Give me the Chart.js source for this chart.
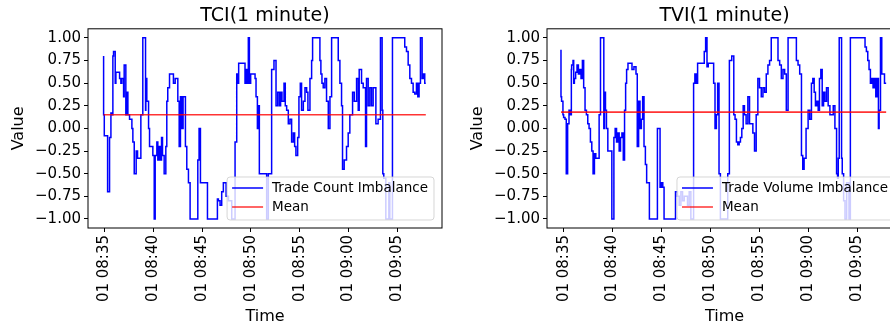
<!DOCTYPE html>
<html>
<head>
<meta charset="utf-8">
<script src="https://cdn.jsdelivr.net/npm/chart.js@4.4.1/dist/chart.umd.min.js"></script>
<style>
  body { margin: 0; background: #fff; overflow: hidden; width: 890px; height: 326px; position: relative; }
  #tci { position: absolute; left: 0; top: 0; }
  #tvi { position: absolute; left: 445px; top: 0; }
</style>
</head>
<body>
<canvas id="tci" width="445" height="326"></canvas>
<canvas id="tvi" width="460" height="326"></canvas>
<script>
"use strict";
// minutes after 08:35
var timeLabels = ['01 08:35', '01 08:40', '01 08:45', '01 08:50', '01 08:55', '01 09:00', '01 09:05'];
var valueLabels = ['\u22121.00', '\u22120.75', '\u22120.50', '\u22120.25', '0.00', '0.25', '0.50', '0.75', '1.00'];

var tciTime = [-0.10,-0.03,0.17,0.31,0.51,0.65,0.75,0.85,0.92,1.09,
  1.16,1.33,1.54,1.67,1.77,1.95,2.01,2.18,2.29,2.39,
  2.56,2.80,2.90,3.04,3.24,3.38,3.52,3.72,3.86,3.92,
  3.99,4.20,4.23,4.33,4.51,4.61,4.74,4.95,5.09,5.19,
  5.36,5.46,5.56,5.70,5.84,5.94,6.11,6.28,6.38,6.48,
  6.66,6.79,7.06,7.24,7.51,7.65,7.78,7.92,8.05,8.29,
  8.43,8.60,8.77,8.94,9.56,9.69,9.83,9.97,10.55,10.61,
  11.57,11.67,11.84,12.01,12.18,12.46,12.70,13.04,13.38,13.55,
  13.65,13.75,13.89,14.40,14.51,14.64,14.74,14.85,14.98,15.15,
  15.43,15.53,15.67,15.77,15.87,16.11,16.62,16.79,17.13,17.37,
  17.58,17.75,17.92,18.05,18.19,18.40,18.53,18.67,18.84,19.01,
  19.18,19.35,19.49,19.62,19.80,19.93,20.07,20.20,20.38,20.55,
  20.72,20.85,21.06,21.23,21.33,21.47,22.08,22.18,22.29,22.42,
  22.59,22.76,22.94,23.11,23.28,23.38,23.96,24.13,24.30,24.40,
  24.57,24.81,24.98,25.15,25.43,25.60,25.84,26.01,26.11,26.35,
  26.52,26.76,26.86,27.03,27.20,27.37,27.54,27.82,28.05,28.29,
  28.46,28.53,28.63,28.84,29.01,29.15,29.25,29.35,29.52,29.69,
  30.78,30.96,31.13,31.30,31.47,31.64,31.81,31.98,32.12,32.25,
  32.39,32.56,32.70,32.83,32.94];
var tciValue = [0.80,0.15,-0.08,-0.08,-0.70,-0.10,0.17,0.15,0.80,0.85,
  0.50,0.62,0.62,0.55,0.50,0.55,0.35,0.70,0.15,0.40,
  0.15,0.10,0.00,-0.15,-0.50,-0.25,-0.33,-0.33,0.15,0.15,
  1.00,1.00,0.20,0.55,0.30,0.00,-0.20,-0.20,-0.30,-1.00,
  -0.30,-0.15,-0.35,-0.20,-0.35,-0.10,-0.30,-0.50,-0.20,0.30,
  0.45,0.60,0.60,0.50,0.55,0.30,-0.20,0.35,0.00,0.35,
  -0.20,-0.45,-0.60,-1.00,-1.00,-0.35,0.00,-0.60,-0.60,-1.00,
  -1.00,-0.78,-0.80,-0.85,-0.70,-0.60,-0.75,-0.80,-1.00,-0.15,
  0.60,0.50,0.72,0.72,0.50,0.65,0.50,1.00,0.50,0.60,
  0.60,0.55,0.35,0.00,0.25,-0.50,-0.50,-1.00,-0.50,0.65,
  0.75,0.25,0.40,0.25,0.40,0.30,0.50,0.25,0.20,0.05,
  0.10,-0.15,-0.05,-0.20,-0.30,-0.10,0.35,0.50,0.20,0.30,
  0.45,0.40,0.20,0.55,0.75,1.00,1.00,0.75,0.60,0.50,
  0.45,0.55,0.30,0.00,0.35,1.00,1.00,0.75,0.50,0.25,
  -0.45,-0.35,-0.20,-0.05,0.15,0.40,0.30,0.55,0.20,0.65,
  0.50,0.45,-0.20,0.55,0.25,0.45,0.25,0.45,0.05,0.10,
  1.00,0.20,-0.50,-0.55,-1.00,-1.00,-0.60,-1.00,-1.00,1.00,
  1.00,0.90,0.85,0.70,0.55,0.50,0.40,0.38,0.50,0.35,
  0.50,1.00,0.55,0.60,0.50];
var tciMean = 0.15;

var tviTime = [-0.27,-0.21,-0.07,0.00,0.14,0.27,0.41,0.55,0.68,0.79,
  0.82,0.96,1.03,1.10,1.23,1.37,1.51,1.64,1.78,1.92,
  2.05,2.19,2.33,2.47,2.60,2.74,2.88,3.01,3.15,3.29,
  3.42,3.63,3.77,3.90,4.11,4.18,4.28,4.38,4.52,4.73,
  4.93,5.14,5.27,5.41,5.55,5.68,5.82,5.96,6.10,6.23,
  6.34,6.44,6.58,6.71,6.99,7.19,7.40,7.53,7.67,7.81,
  7.95,8.08,8.22,8.36,8.49,8.63,8.77,8.90,9.59,9.73,
  9.86,10.00,10.14,10.27,10.41,11.44,11.64,11.82,11.99,12.16,
  12.33,12.67,12.84,13.01,13.29,13.42,13.56,13.70,13.84,14.38,
  14.52,14.66,14.79,14.93,15.34,15.48,15.62,15.75,15.89,16.03,
  16.16,16.78,16.95,17.19,17.40,17.53,17.67,17.81,17.95,18.08,
  18.22,18.36,18.49,18.66,18.84,19.01,19.18,19.35,19.52,19.69,
  19.86,20.03,20.21,20.38,20.55,20.72,20.89,21.06,21.23,21.40,
  21.92,22.09,22.26,22.43,22.60,22.77,22.95,23.12,23.80,23.97,
  24.14,24.32,24.45,24.59,24.79,25.00,25.17,25.34,25.48,25.62,
  25.75,25.89,26.03,26.16,26.30,26.44,26.58,26.71,26.88,27.05,
  27.23,27.40,27.57,27.74,27.91,28.01,28.08,28.18,28.42,28.49,
  28.63,28.77,28.94,29.18,29.32,29.52,30.82,30.96,31.10,31.23,
  31.37,31.51,31.64,31.78,31.92,32.05,32.19,32.26,32.40,32.53,
  32.67,32.81,32.98];
var tviValue = [0.87,0.35,0.30,0.15,0.12,0.10,-0.50,0.05,0.20,0.15,
  0.65,0.70,0.75,0.50,0.55,0.62,0.70,0.60,0.65,0.55,
  0.75,0.45,0.20,0.15,0.05,0.00,-0.15,-0.25,-0.50,-0.28,
  -0.33,-0.33,0.15,1.00,1.00,0.00,0.40,0.20,0.00,-0.25,
  -0.25,-1.00,-0.10,0.00,-0.15,-0.05,-0.25,-0.10,-0.05,-0.35,
  0.20,0.50,0.65,0.72,0.72,0.65,0.68,0.60,-0.20,0.30,
  0.00,0.10,0.35,-0.20,-0.40,-0.60,-0.60,-1.00,-1.00,0.00,
  0.00,-0.65,-0.60,-0.65,-1.00,-1.00,-0.70,-0.75,-0.85,-0.70,
  -0.80,-0.75,-0.85,-0.70,-1.00,0.50,0.60,0.50,0.72,0.72,
  0.85,1.00,0.68,0.72,0.72,0.50,0.00,0.15,0.50,-0.50,
  -1.00,-1.00,-0.50,0.75,0.80,0.15,0.10,-0.15,-0.18,-0.15,
  -0.10,0.00,0.25,0.15,0.05,0.35,0.05,0.05,-0.05,-0.25,
  0.15,0.55,0.45,0.35,0.45,0.40,0.60,0.70,0.75,1.00,
  1.00,0.75,0.70,0.55,0.65,0.60,0.20,1.00,1.00,0.75,
  0.70,0.60,-0.30,-0.45,-0.33,0.00,0.20,0.10,0.50,0.55,
  0.40,0.25,0.30,0.20,0.55,0.65,0.25,0.40,0.30,0.45,
  0.25,0.15,0.15,0.25,0.00,-0.50,-0.55,-0.33,1.00,-0.33,
  -0.50,-0.80,-1.00,-0.60,-1.00,1.00,1.00,0.90,0.85,0.75,
  0.65,0.50,0.55,0.45,0.55,0.35,0.55,0.00,0.20,1.00,
  0.60,0.60,0.50];
var tviMean = 0.18;

var FONT = 'DejaVu Sans';
Chart.defaults.font.family = FONT;
Chart.defaults.color = '#000';

// matplotlib style box around the axes
var axesFrame = {
  id: 'axesFrame',
  afterDraw: function (chart) {
    var a = chart.chartArea, ctx = chart.ctx;
    ctx.save();
    ctx.strokeStyle = '#000';
    ctx.lineWidth = 1;
    ctx.strokeRect(a.left, a.top, a.right - a.left, a.bottom - a.top);
    ctx.restore();
  }
};

// legend box in the lower right corner of the axes
var insideLegend = {
  id: 'insideLegend',
  afterDatasetsDraw: function (chart) {
    var ctx = chart.ctx, a = chart.chartArea;
    var sets = chart.data.datasets;
    ctx.save();
    ctx.font = '13.5px "' + FONT + '"';
    var textW = Math.max.apply(null, sets.map(function (d) { return ctx.measureText(d.label).width; }));
    var w = 5 + 31 + 9 + textW + 6, h = 43;
    var x = a.right - 8 - w, y = a.bottom - 8 - h;
    ctx.beginPath();
    ctx.roundRect(x, y, w, h, 3);
    ctx.fillStyle = 'rgba(255,255,255,0.8)';
    ctx.fill();
    ctx.strokeStyle = 'rgba(204,204,204,0.8)';
    ctx.lineWidth = 1;
    ctx.stroke();
    sets.forEach(function (d, i) {
      var ry = y + 11 + i * 19;
      ctx.beginPath();
      ctx.moveTo(x + 5, ry);
      ctx.lineTo(x + 36, ry);
      ctx.strokeStyle = d.borderColor;
      ctx.lineWidth = 1.5;
      ctx.stroke();
      ctx.fillStyle = '#000';
      ctx.textBaseline = 'middle';
      ctx.fillText(d.label, x + 45, ry);
    });
    ctx.restore();
  }
};

function imbalanceChart(canvasId, title, label, times, values, mean, padLeft, padRight) {
  var line = times.map(function (t, i) { return { x: t, y: values[i] }; });
  var meanLine = [{ x: times[0], y: mean }, { x: times[times.length - 1], y: mean }];
  var tickFont = { family: FONT, size: 15 };
  var labelFont = { family: FONT, size: 16 };

  new Chart(document.getElementById(canvasId).getContext('2d'), {
    type: 'line',
    data: {
      datasets: [
        { label: label, data: line, borderColor: '#0000ff', borderWidth: 1.5,
          pointRadius: 0, stepped: 'after', order: 1 },
        { label: 'Mean', data: meanLine, borderColor: 'rgba(255,0,0,0.8)', borderWidth: 1.6,
          pointRadius: 0, order: 0 }
      ]
    },
    options: {
      responsive: false,
      animation: false,
      layout: { padding: { left: padLeft, right: padRight, top: 0, bottom: 0 } },
      plugins: {
        legend: { display: false },
        tooltip: { enabled: false },
        title: { display: true, text: title, fullSize: false, color: '#000',
          font: { family: FONT, size: 19, weight: 'normal' }, padding: { top: 5, bottom: 1 } }
      },
      scales: {
        x: {
          type: 'linear', min: -1.7, max: 34.6,
          ticks: { stepSize: 5, includeBounds: false, autoSkip: false, maxRotation: 90, minRotation: 90,
            padding: 3, color: '#000', font: tickFont,
            callback: function (v) { return timeLabels[Math.round(v / 5)]; } },
          grid: { drawOnChartArea: false, drawTicks: true, tickLength: 4, tickColor: '#000' },
          border: { display: false },
          title: { display: true, text: 'Time', color: '#000', font: labelFont, padding: { top: 0, bottom: 0 } },
          afterFit: function (s) { s.height = 98; }
        },
        y: {
          min: -1.1, max: 1.1,
          ticks: { stepSize: 0.25, includeBounds: false, padding: 3, color: '#000', font: tickFont,
            callback: function (v) { return valueLabels[Math.round((v + 1) / 0.25)]; } },
          grid: { drawOnChartArea: false, drawTicks: true, tickLength: 4, tickColor: '#000' },
          border: { display: false },
          title: { display: true, text: 'Value', color: '#000', font: labelFont, padding: { top: 9, bottom: 0 } },
          afterFit: function (s) { s.width = 88; }
        }
      }
    },
    plugins: [axesFrame, insideLegend]
  });
}

imbalanceChart('tci', 'TCI(1 minute)', 'Trade Count Imbalance', tciTime, tciValue, tciMean, 0, 3);
imbalanceChart('tvi', 'TVI(1 minute)', 'Trade Volume Imbalance', tviTime, tviValue, tviMean, 14, 3);
</script>
</body>
</html>
